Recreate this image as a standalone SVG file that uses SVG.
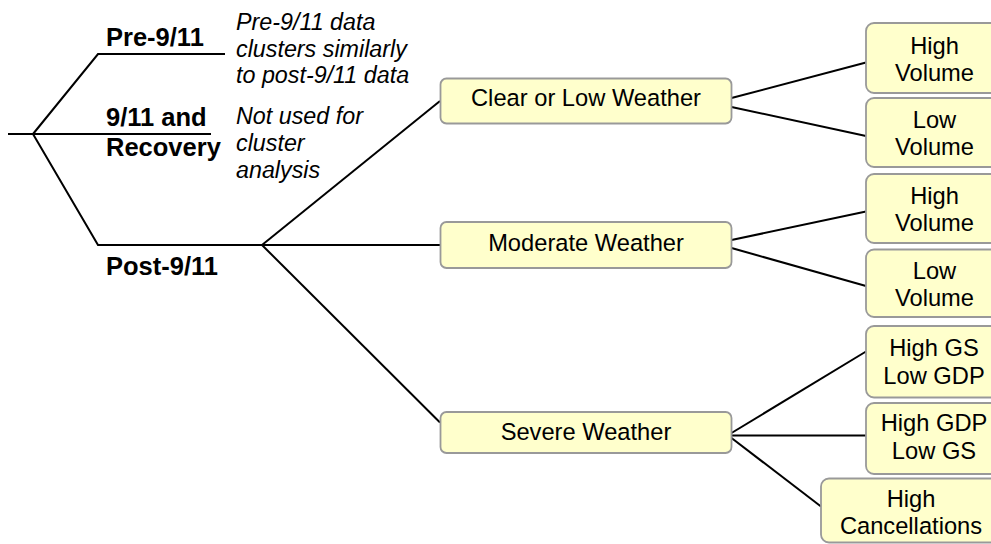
<svg xmlns="http://www.w3.org/2000/svg" width="991" height="544" viewBox="0 0 991 544">
  <style>
    .wire { stroke: #000; stroke-width: 2; fill: none; stroke-linecap: butt; }
    .box { fill: #FFFFCC; stroke: #999; stroke-width: 1.8; }
    .node { font-family: "Liberation Sans", Arial, sans-serif; font-size: 23.7px; fill: #000; text-anchor: middle; }
    .lab { font-family: "Liberation Sans", Arial, sans-serif; font-size: 25.5px; font-weight: bold; fill: #000; }
    .note { font-family: "Liberation Sans", Arial, sans-serif; font-size: 23.3px; font-style: italic; fill: #000; }
  </style>
  <rect width="991" height="544" fill="#fff"/>

  <!-- connectors -->
  <g id="connectors">
    <path class="wire" d="M8 134 H33"/>
    <path class="wire" d="M33 134 L98 54 H225"/>
    <path class="wire" d="M33 134 H211"/>
    <path class="wire" d="M33 134 L98 245 H440"/>
    <path class="wire" d="M262 245 L440 101"/>
    <path class="wire" d="M262 245 L440 422.5"/>
    <path class="wire" d="M731.5 98 L866 62.5"/>
    <path class="wire" d="M731.5 107 L866 136"/>
    <path class="wire" d="M731.5 240 L866 211.5"/>
    <path class="wire" d="M731.5 248 L866 286"/>
    <path class="wire" d="M731.5 433 L866 351.5"/>
    <path class="wire" d="M731.5 435.5 H866"/>
    <path class="wire" d="M731.5 438 L821 506.5"/>
  </g>

  <!-- period labels -->
  <g id="pre911">
    <text class="lab" x="106" y="46">Pre-9/11</text>
    <text class="note" x="236" y="29.5">Pre-9/11 data</text>
    <text class="note" x="236" y="56.5">clusters similarly</text>
    <text class="note" x="236" y="83">to post-9/11 data</text>
  </g>
  <g id="recovery">
    <text class="lab" x="106" y="126">9/11 and</text>
    <text class="lab" x="106" y="156">Recovery</text>
    <text class="note" x="236" y="123.5">Not used for</text>
    <text class="note" x="236" y="151">cluster</text>
    <text class="note" x="236" y="178">analysis</text>
  </g>
  <g id="post911">
    <text class="lab" x="106" y="275">Post-9/11</text>
  </g>

  <!-- weather nodes -->
  <g id="clear-low">
    <rect class="box" x="440.5" y="78.5" width="291" height="45" rx="6"/>
    <text class="node" x="586" y="106">Clear or Low Weather</text>
  </g>
  <g id="moderate">
    <rect class="box" x="440.5" y="222" width="291" height="46" rx="6"/>
    <text class="node" x="586" y="251">Moderate Weather</text>
  </g>
  <g id="severe">
    <rect class="box" x="440.5" y="412" width="291" height="41" rx="6"/>
    <text class="node" x="586" y="440">Severe Weather</text>
  </g>

  <!-- leaf nodes -->
  <g id="clear-high-vol">
    <rect class="box" x="866" y="23" width="137" height="70" rx="8"/>
    <text class="node" x="934.5" y="53.5">High</text>
    <text class="node" x="934.5" y="81">Volume</text>
  </g>
  <g id="clear-low-vol">
    <rect class="box" x="866" y="98" width="137" height="69" rx="8"/>
    <text class="node" x="934.5" y="127.5">Low</text>
    <text class="node" x="934.5" y="155">Volume</text>
  </g>
  <g id="moderate-high-vol">
    <rect class="box" x="866" y="174" width="137" height="69" rx="8"/>
    <text class="node" x="934.5" y="203.5">High</text>
    <text class="node" x="934.5" y="231">Volume</text>
  </g>
  <g id="moderate-low-vol">
    <rect class="box" x="866" y="249.5" width="137" height="67.5" rx="8"/>
    <text class="node" x="934.5" y="278.5">Low</text>
    <text class="node" x="934.5" y="306">Volume</text>
  </g>
  <g id="severe-gs">
    <rect class="box" x="866" y="326" width="137" height="71.5" rx="8"/>
    <text class="node" x="934" y="355.5">High GS</text>
    <text class="node" x="934" y="383.5">Low GDP</text>
  </g>
  <g id="severe-gdp">
    <rect class="box" x="866" y="403" width="137" height="71" rx="8"/>
    <text class="node" x="934" y="431">High GDP</text>
    <text class="node" x="934" y="459">Low GS</text>
  </g>
  <g id="severe-cancel">
    <rect class="box" x="821" y="478.5" width="181" height="64" rx="8"/>
    <text class="node" x="911" y="507">High</text>
    <text class="node" x="911" y="533.5">Cancellations</text>
  </g>
</svg>
